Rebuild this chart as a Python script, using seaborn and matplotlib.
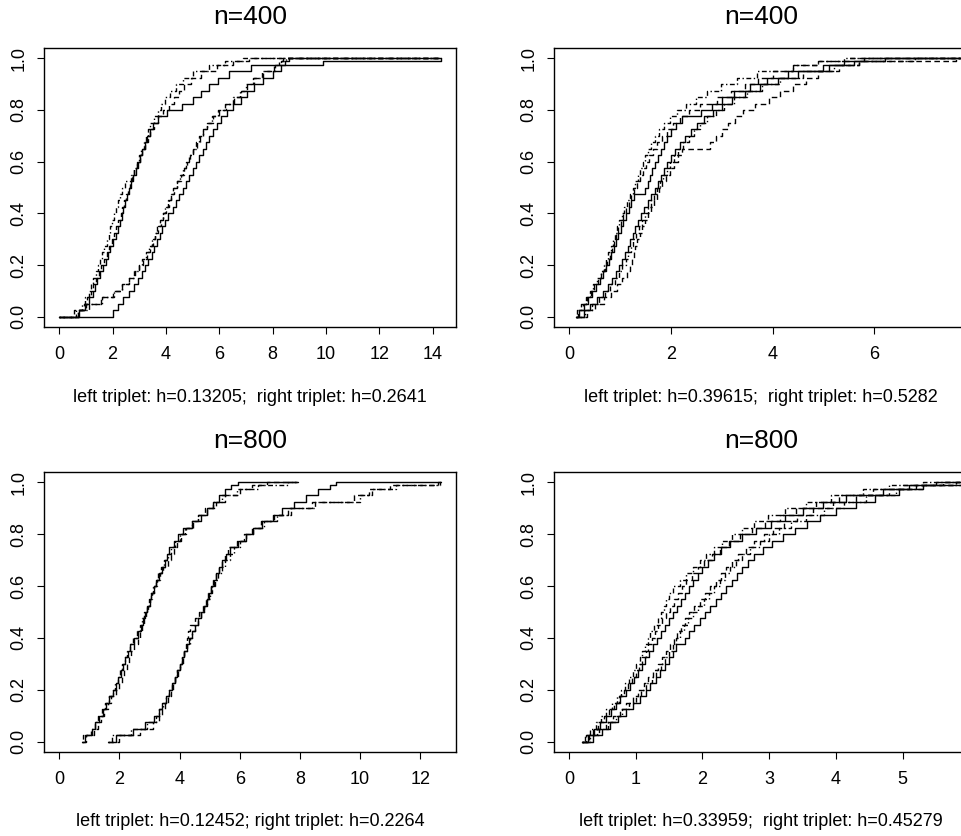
import numpy as np
import pandas as pd
import matplotlib
matplotlib.use("Agg")
import matplotlib.pyplot as plt
import seaborn as sns

sns.set_theme(style="ticks", rc={"axes.edgecolor": "black", "xtick.color": "black",
                                 "ytick.color": "black", "text.color": "black",
                                 "axes.linewidth": 1.0})
plt.rcParams['font.family'] = ['Liberation Sans', 'DejaVu Sans']

# ---------------- data: x value at which each empirical CDF reaches each level ----------------
LEVELS = [0.025, 0.05, 0.075, 0.1, 0.125, 0.15, 0.175, 0.2, 0.225, 0.25,
          0.275, 0.3, 0.325, 0.35, 0.375, 0.4, 0.425, 0.45, 0.475, 0.5,
          0.525, 0.55, 0.575, 0.6, 0.625, 0.65, 0.675, 0.7, 0.725, 0.75,
          0.775, 0.8, 0.825, 0.85, 0.875, 0.9, 0.925, 0.95, 0.975, 0.99, 1.0]

# Panel 1 : n=400, h=0.13205 (left triplet) / h=0.2641 (right triplet)
P1_RANGE = [0.0, 14.3]
P1_LEFT_SOLID = [0.75, 0.98, 1.12, 1.28, 1.35, 1.42, 1.52, 1.65, 1.74, 1.82, 1.92, 2.02, 2.12, 2.20,
                 2.27, 2.34, 2.40, 2.46, 2.54, 2.60, 2.68, 2.76, 2.86, 2.95, 3.04, 3.12, 3.20, 3.30,
                 3.40, 3.52, 3.70, 4.05, 4.60, 5.00, 5.30, 5.60, 5.95, 6.35, 7.20, 9.90, 14.30]
P1_LEFT_DASHED = [0.70, 0.92, 1.05, 1.18, 1.28, 1.38, 1.48, 1.58, 1.68, 1.78, 1.88, 1.98, 2.06, 2.14,
                  2.22, 2.30, 2.36, 2.42, 2.50, 2.58, 2.66, 2.74, 2.82, 2.92, 3.02, 3.12, 3.22, 3.32,
                  3.42, 3.55, 3.72, 3.90, 4.10, 4.30, 4.48, 4.68, 4.95, 5.30, 5.90, 6.50, 7.10]
P1_LEFT_DOTDASH = [0.62, 0.85, 0.98, 1.10, 1.20, 1.28, 1.36, 1.45, 1.52, 1.60, 1.68, 1.78, 1.85, 1.92,
                   1.98, 2.05, 2.12, 2.20, 2.28, 2.35, 2.45, 2.68, 2.80, 2.90, 3.00, 3.08, 3.16, 3.24,
                   3.32, 3.42, 3.56, 3.70, 3.82, 3.96, 4.15, 4.38, 4.65, 5.00, 5.60, 6.20, 6.90]
P1_RIGHT_SOLID = [2.00, 2.20, 2.40, 2.62, 2.80, 2.95, 3.10, 3.22, 3.34, 3.46, 3.56, 3.66, 3.76, 3.86,
                  3.96, 4.08, 4.25, 4.38, 4.50, 4.62, 4.75, 4.88, 5.00, 5.12, 5.25, 5.38, 5.50, 5.62,
                  5.75, 5.90, 6.08, 6.28, 6.52, 6.80, 7.05, 7.30, 7.65, 8.00, 8.30, 8.45, 8.60]
P1_RIGHT_DASHED = [0.55, 1.00, 1.55, 2.00, 2.35, 2.62, 2.85, 3.00, 3.15, 3.28, 3.40, 3.50, 3.60, 3.70,
                   3.80, 3.90, 4.00, 4.10, 4.20, 4.30, 4.42, 4.55, 4.66, 4.78, 4.90, 5.02, 5.15, 5.28,
                   5.40, 5.55, 5.75, 5.98, 6.25, 6.55, 6.80, 7.02, 7.30, 7.62, 8.05, 8.25, 8.40]
P1_RIGHT_DOTDASH = [0.70, 1.10, 1.60, 2.05, 2.35, 2.60, 2.82, 2.98, 3.12, 3.25, 3.38, 3.48, 3.58, 3.68,
                    3.78, 3.88, 3.98, 4.08, 4.18, 4.28, 4.40, 4.52, 4.64, 4.76, 4.88, 5.00, 5.12, 5.25,
                    5.38, 5.52, 5.72, 5.95, 6.22, 6.50, 6.78, 7.00, 7.28, 7.60, 8.10, 8.30, 8.50]

# Panel 2 : n=400, h=0.39615 / h=0.5282
P2_RANGE = [0.13, 9.0]
P2_LEFT_DOTDASH = [0.16, 0.24, 0.33, 0.41, 0.48, 0.55, 0.62, 0.68, 0.73, 0.77, 0.82, 0.86, 0.90, 0.94,
                   0.99, 1.04, 1.09, 1.14, 1.20, 1.25, 1.30, 1.35, 1.40, 1.45, 1.50, 1.56, 1.62, 1.68,
                   1.76, 1.86, 1.98, 2.12, 2.30, 2.50, 2.72, 2.98, 3.30, 3.70, 4.40, 4.90, 5.40]
P2_LEFT_SOLID = [0.20, 0.30, 0.38, 0.46, 0.53, 0.60, 0.66, 0.72, 0.78, 0.83, 0.88, 0.92, 0.97, 1.02,
                 1.07, 1.12, 1.17, 1.22, 1.27, 1.50, 1.55, 1.60, 1.64, 1.68, 1.74, 1.80, 1.86, 1.92,
                 2.00, 2.10, 2.22, 2.60, 2.80, 3.00, 3.25, 3.55, 3.90, 4.30, 5.00, 5.40, 5.80]
P2_LEFT_DASHED = [0.18, 0.27, 0.35, 0.43, 0.50, 0.56, 0.63, 0.70, 0.75, 0.80, 0.84, 0.88, 0.93, 0.97,
                  1.02, 1.07, 1.12, 1.17, 1.22, 1.28, 1.34, 1.40, 1.46, 1.52, 1.58, 1.65, 1.73, 1.82,
                  1.92, 2.04, 2.18, 2.36, 2.58, 2.90, 3.18, 3.45, 3.72, 4.00, 4.40, 4.90, 5.50]
P2_RIGHT_SOLID = [0.30, 0.42, 0.55, 0.66, 0.76, 0.85, 0.92, 0.99, 1.05, 1.10, 1.15, 1.20, 1.25, 1.30,
                  1.36, 1.42, 1.48, 1.55, 1.62, 1.68, 1.74, 1.80, 1.86, 1.93, 2.00, 2.08, 2.18, 2.28,
                  2.40, 2.52, 2.66, 2.82, 3.00, 3.20, 3.45, 3.75, 4.10, 4.50, 5.10, 5.60, 6.20]
P2_RIGHT_DOTDASH = [0.32, 0.45, 0.58, 0.70, 0.80, 0.90, 0.98, 1.05, 1.11, 1.16, 1.21, 1.26, 1.32, 1.37,
                    1.43, 1.49, 1.55, 1.61, 1.67, 1.73, 1.79, 1.85, 1.92, 1.99, 2.06, 2.14, 2.24, 2.35,
                    2.46, 2.58, 2.72, 2.88, 3.05, 3.25, 3.50, 3.80, 4.15, 4.60, 5.20, 5.70, 6.80]
P2_RIGHT_DASHED = [0.35, 0.52, 0.68, 0.82, 0.95, 1.05, 1.13, 1.20, 1.24, 1.27, 1.30, 1.34, 1.39, 1.44,
                   1.50, 1.56, 1.62, 1.67, 1.72, 1.76, 1.82, 1.90, 1.98, 2.06, 2.14, 2.22, 2.78, 2.88,
                   3.00, 3.12, 3.26, 3.42, 3.65, 3.92, 4.15, 4.40, 4.65, 4.90, 5.30, 5.70, 7.60]

# Panel 3 : n=800, h=0.12452 / h=0.2264
P3_LEFT_RANGE = [0.74, 7.94]
P3_RIGHT_RANGE = [1.63, 12.68]
P3_LEFT_SOLID = [0.85, 1.08, 1.20, 1.32, 1.44, 1.55, 1.66, 1.80, 1.88, 1.96, 2.04, 2.12, 2.20, 2.28,
                 2.36, 2.48, 2.62, 2.72, 2.78, 2.84, 2.92, 3.00, 3.06, 3.14, 3.22, 3.30, 3.40, 3.50,
                 3.58, 3.66, 3.80, 3.96, 4.12, 4.40, 4.70, 4.90, 5.10, 5.30, 5.50, 5.70, 5.95]
P3_LEFT_DASHED = [0.90, 1.15, 1.28, 1.40, 1.50, 1.62, 1.72, 1.88, 1.98, 2.08, 2.16, 2.24, 2.32, 2.40,
                  2.50, 2.62, 2.70, 2.76, 2.82, 2.88, 2.94, 3.00, 3.08, 3.16, 3.24, 3.34, 3.46, 3.60,
                  3.72, 3.80, 3.92, 4.06, 4.22, 4.45, 4.62, 4.90, 5.20, 5.50, 6.00, 6.40, 6.90]
P3_LEFT_DOTDASH = [0.80, 1.05, 1.18, 1.30, 1.42, 1.52, 1.64, 1.78, 1.86, 1.94, 2.02, 2.10, 2.18, 2.26,
                   2.34, 2.45, 2.58, 2.70, 2.76, 2.82, 2.90, 2.98, 3.04, 3.12, 3.20, 3.28, 3.38, 3.48,
                   3.60, 3.70, 3.84, 4.00, 4.18, 4.42, 4.60, 4.85, 5.10, 5.40, 5.90, 6.60, 7.60]
P3_RIGHT_SOLID = [1.90, 2.45, 2.85, 3.15, 3.30, 3.42, 3.54, 3.64, 3.74, 3.84, 3.92, 4.00, 4.08, 4.16,
                  4.24, 4.32, 4.40, 4.50, 4.60, 4.70, 4.80, 4.90, 4.98, 5.06, 5.14, 5.22, 5.32, 5.42,
                  5.54, 5.66, 5.95, 6.20, 6.45, 6.75, 7.10, 7.40, 7.80, 8.20, 8.60, 9.00, 9.20]
P3_RIGHT_DASHED = [2.00, 2.70, 3.10, 3.30, 3.40, 3.50, 3.60, 3.70, 3.78, 3.86, 3.94, 4.02, 4.10, 4.16,
                   4.20, 4.24, 4.28, 4.34, 4.50, 4.66, 4.78, 4.88, 4.96, 5.04, 5.12, 5.20, 5.30, 5.40,
                   5.50, 5.62, 5.90, 6.15, 6.40, 6.70, 7.15, 7.60, 8.40, 9.80, 10.30, 11.00, 12.60]
P3_RIGHT_DOTDASH = [1.75, 2.40, 2.90, 3.20, 3.32, 3.44, 3.55, 3.65, 3.74, 3.84, 3.92, 4.00, 4.08, 4.16,
                    4.25, 4.34, 4.42, 4.52, 4.62, 4.72, 4.82, 4.92, 5.00, 5.08, 5.18, 5.28, 5.40, 5.52,
                    5.66, 5.80, 6.00, 6.20, 6.45, 6.80, 7.25, 7.70, 8.50, 10.00, 10.40, 11.20, 12.65]

# Panel 4 : n=800, h=0.33959 / h=0.45279
P4_RANGE = [0.20, 7.0]
P4_LEFT_DOTDASH = [0.24, 0.32, 0.40, 0.48, 0.56, 0.64, 0.72, 0.78, 0.84, 0.90, 0.96, 1.01, 1.06, 1.10,
                   1.14, 1.18, 1.22, 1.27, 1.33, 1.38, 1.42, 1.46, 1.50, 1.56, 1.66, 1.76, 1.86, 1.96,
                   2.06, 2.18, 2.30, 2.44, 2.60, 2.78, 2.98, 3.24, 3.55, 3.92, 4.40, 4.80, 5.30]
P4_LEFT_DASHED = [0.26, 0.36, 0.44, 0.52, 0.60, 0.68, 0.75, 0.82, 0.88, 0.94, 1.00, 1.05, 1.10, 1.15,
                  1.19, 1.24, 1.29, 1.34, 1.40, 1.46, 1.52, 1.58, 1.64, 1.70, 1.76, 1.84, 1.93, 2.03,
                  2.14, 2.26, 2.40, 2.56, 2.74, 2.94, 3.16, 3.40, 3.70, 4.05, 4.55, 5.00, 5.60]
P4_LEFT_SOLID = [0.28, 0.38, 0.47, 0.55, 0.63, 0.70, 0.77, 0.85, 0.92, 0.98, 1.04, 1.09, 1.14, 1.20,
                 1.26, 1.32, 1.38, 1.44, 1.50, 1.56, 1.62, 1.68, 1.74, 1.80, 1.86, 1.93, 2.00, 2.08,
                 2.17, 2.28, 2.42, 2.60, 2.80, 3.02, 3.24, 3.50, 3.80, 4.15, 4.70, 5.10, 5.50]
P4_RIGHT_DASHED = [0.30, 0.42, 0.55, 0.66, 0.76, 0.86, 0.96, 1.04, 1.12, 1.19, 1.26, 1.33, 1.40, 1.46,
                   1.52, 1.57, 1.62, 1.68, 1.74, 1.80, 1.88, 1.96, 2.04, 2.12, 2.20, 2.28, 2.36, 2.44,
                   2.54, 2.65, 2.78, 2.92, 3.06, 3.22, 3.42, 3.66, 3.95, 4.30, 4.80, 5.20, 5.80]
P4_RIGHT_DOTDASH = [0.32, 0.45, 0.58, 0.70, 0.80, 0.90, 1.00, 1.08, 1.16, 1.24, 1.31, 1.38, 1.44, 1.50,
                    1.56, 1.61, 1.66, 1.72, 1.78, 1.86, 1.94, 2.02, 2.10, 2.18, 2.26, 2.34, 2.42, 2.50,
                    2.60, 2.72, 2.86, 3.00, 3.15, 3.32, 3.55, 3.82, 4.12, 4.45, 4.90, 5.30, 6.00]
P4_RIGHT_SOLID = [0.36, 0.50, 0.62, 0.74, 0.86, 0.96, 1.06, 1.15, 1.22, 1.30, 1.37, 1.44, 1.50, 1.56,
                  1.60, 1.74, 1.80, 1.88, 1.96, 2.04, 2.12, 2.20, 2.28, 2.36, 2.44, 2.52, 2.60, 2.68,
                  2.78, 2.90, 3.04, 3.20, 3.38, 3.56, 3.76, 4.00, 4.30, 4.58, 4.95, 5.30, 5.90]

TITLES = ["n=400", "n=400", "n=800", "n=800"]
SUBTITLES = ["left triplet: h=0.13205;  right triplet: h=0.2641",
             "left triplet: h=0.39615;  right triplet: h=0.5282",
             "left triplet: h=0.12452; right triplet: h=0.2264",
             "left triplet: h=0.33959;  right triplet: h=0.45279"]
YTICKS = [0.0, 0.2, 0.4, 0.6, 0.8, 1.0]
YTICKLABELS = ["0.0", "0.2", "0.4", "0.6", "0.8", "1.0"]
XTICKS = [[0, 2, 4, 6, 8, 10, 12, 14], [0, 2, 4, 6], [0, 2, 4, 6, 8, 10, 12], [0, 1, 2, 3, 4, 5]]

DASHES = {"solid": "", "dashed": (4, 2.5), "dotdash": (1, 1.8, 3.5, 1.8)}

# ---------------- figure ----------------
W, H = 962, 836
fig = plt.figure(figsize=(W / 100, H / 100), dpi=100)
fig.patch.set_facecolor("white")


def px_axes(left, top, right, bottom):
    return fig.add_axes([left / W, 1 - bottom / H, (right - left) / W, (bottom - top) / H])


def build_df(curves):
    rows = []
    for cid, (xs, rng, lty) in enumerate(curves):
        xx = [rng[0]] + list(xs) + [rng[1]]
        yy = [0.0] + LEVELS + [1.0]
        for a, b in zip(xx, yy):
            rows.append((cid, lty, a, b))
    return pd.DataFrame(rows, columns=["curve", "lty", "x", "y"])


panels = [
    dict(box=(44, 48, 456, 327), xlim=(-0.572, 14.872),
         curves=[(P1_LEFT_SOLID, P1_RANGE, "solid"), (P1_LEFT_DASHED, P1_RANGE, "dashed"),
                 (P1_LEFT_DOTDASH, P1_RANGE, "dotdash"), (P1_RIGHT_SOLID, P1_RANGE, "solid"),
                 (P1_RIGHT_DASHED, P1_RANGE, "dashed"), (P1_RIGHT_DOTDASH, P1_RANGE, "dotdash")]),
    dict(box=(554, 48, 968, 327), xlim=(-0.295, 7.84),
         curves=[(P2_LEFT_DOTDASH, P2_RANGE, "dotdash"), (P2_LEFT_SOLID, P2_RANGE, "solid"),
                 (P2_LEFT_DASHED, P2_RANGE, "dashed"), (P2_RIGHT_SOLID, P2_RANGE, "solid"),
                 (P2_RIGHT_DOTDASH, P2_RANGE, "dotdash"), (P2_RIGHT_DASHED, P2_RANGE, "dashed")]),
    dict(box=(44, 472, 456, 752), xlim=(-0.507, 13.187),
         curves=[(P3_LEFT_SOLID, P3_LEFT_RANGE, "solid"), (P3_LEFT_DASHED, P3_LEFT_RANGE, "dashed"),
                 (P3_LEFT_DOTDASH, P3_LEFT_RANGE, "dotdash"), (P3_RIGHT_SOLID, P3_RIGHT_RANGE, "solid"),
                 (P3_RIGHT_DASHED, P3_RIGHT_RANGE, "dashed"), (P3_RIGHT_DOTDASH, P3_RIGHT_RANGE, "dotdash")]),
    dict(box=(554, 472, 968, 752), xlim=(-0.225, 5.98),
         curves=[(P4_LEFT_DOTDASH, P4_RANGE, "dotdash"), (P4_LEFT_DASHED, P4_RANGE, "dashed"),
                 (P4_LEFT_SOLID, P4_RANGE, "solid"), (P4_RIGHT_DASHED, P4_RANGE, "dashed"),
                 (P4_RIGHT_DOTDASH, P4_RANGE, "dotdash"), (P4_RIGHT_SOLID, P4_RANGE, "solid")]),
]

for i, p in enumerate(panels):
    left, top, right, bottom = p["box"]
    ax = px_axes(left, top, right, bottom)
    df = build_df(p["curves"])
    sns.lineplot(data=df, x="x", y="y", units="curve", style="lty", estimator=None, sort=False,
                 dashes=DASHES, color="black", linewidth=1.0, drawstyle="steps-post",
                 legend=False, ax=ax)
    ax.set_xlim(*p["xlim"])
    ax.set_ylim(-0.04, 1.04)
    ax.set_xlabel("")
    ax.set_ylabel("")
    ax.set_xticks(XTICKS[i])
    ax.set_xticklabels([str(t) for t in XTICKS[i]])
    ax.set_yticks(YTICKS)
    ax.set_yticklabels(YTICKLABELS, rotation=90, va="center")
    ax.tick_params(axis="x", direction="out", length=5, width=0.8, labelsize=13, pad=9)
    ax.tick_params(axis="y", direction="out", length=5, width=0.8, labelsize=13, pad=7)
    for s in ax.spines.values():
        s.set_color("black")
        s.set_linewidth(1.0)
    ax.set_facecolor("white")

    cx = (left + right) / 2
    title_y = 17.5 if top < 400 else 441.5
    sub_y = 402 if top < 400 else 826
    fig.text(cx / W, 1 - title_y / H, TITLES[i], ha="center", va="center", fontsize=19)
    fig.text(cx / W, 1 - sub_y / H, SUBTITLES[i], ha="center", va="baseline", fontsize=13)

fig.savefig("out.png", dpi=100, facecolor="white")
